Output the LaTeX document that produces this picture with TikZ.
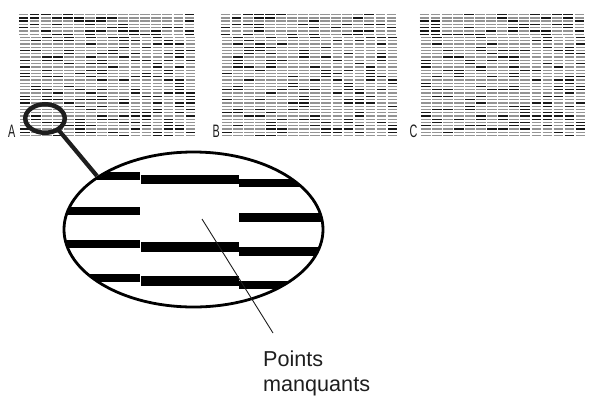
\documentclass[tikz,border=0pt]{standalone}
\usepackage{fontspec}
\setmainfont{Liberation Sans}
\usetikzlibrary{shapes.geometric}
\definecolor{ink}{HTML}{1E1E1E}
\begin{document}
\begin{tikzpicture}[x=1pt,y=-1pt,
  dashln/.style={line width=1.3pt},
  letter/.style={anchor=base west, inner sep=0pt, text=ink, font=\fontsize{18}{18}\selectfont},
  barstyle/.style={fill=black},
  ringstyle/.style={ellipse, draw=ink, line width=4.5pt, inner sep=0pt},
  bigell/.style={ellipse, draw=black, line width=2.8pt, inner sep=0pt},
  handle/.style={draw=ink, line width=4.2pt},
  pointer/.style={draw=ink, line width=0.9pt},
  lblstyle/.style={anchor=base west, align=left, inner sep=0pt, text=ink, font=\fontsize{21.6}{25}\selectfont}]
\useasboundingbox (0,0) rectangle (589,400);
\pgfmathsetseed{7}
\foreach \px/\nc in {20/16,222/16,421/15}{
  \foreach \r in {0,...,37}{
    \pgfmathsetmacro\yy{14.6+\r*3.27}
    \pgfmathsetmacro\sh{\r<7 ? -1.2 : 0}
    \foreach \c in {1,...,\nc}{
      \pgfmathsetmacro\lev{rnd<0.3 ? 90 : 42}
      \draw[dashln, draw=black!\lev] ({\px+\sh+(\c-1)*11.05},\yy) -- ++(9.6,0);
    }
  }
}
\node[letter] (la) at (8,137) {\scalebox{0.6}[1]{A}};
\node[letter] (lb) at (212.5,137) {\scalebox{0.6}[1]{B}};
\node[letter] (lc) at (409.5,137) {\scalebox{0.6}[1]{C}};
% bars inside the zoom
\begin{scope}
\clip (193.5,229.5) ellipse [x radius=128.5, y radius=76.5];
\foreach \yb/\ym/\yr in {176/179.5/183, 211/0/217.5, 244/247/251.5, 278/281/285}{
  \fill[barstyle] (40,\yb-4.3) rectangle (140,\yb+4.3);
  \ifdim\ym pt>1pt \fill[barstyle] (141,\ym-4.6) rectangle (238.5,\ym+4.6);\fi
  \fill[barstyle] (239,\yr-4.3) rectangle (340,\yr+4.3);
}
\end{scope}
\node[bigell, minimum width=259, minimum height=155] (zoom) at (193.5,229.5) {};
\node[ringstyle, minimum width=39.5, minimum height=28.5] (lens) at (45,118.5) {};
\coordinate (h1) at (59,130.5);
\coordinate (h2) at (97,176);
\draw[handle] (h1) -- (h2);
\coordinate (m1) at (202,219);
\coordinate (m2) at (273,333);
\draw[pointer] (m1) -- (m2);
\node[lblstyle] (lbl) at (263,391.5) {Points\\manquants};
\end{tikzpicture}
\end{document}
